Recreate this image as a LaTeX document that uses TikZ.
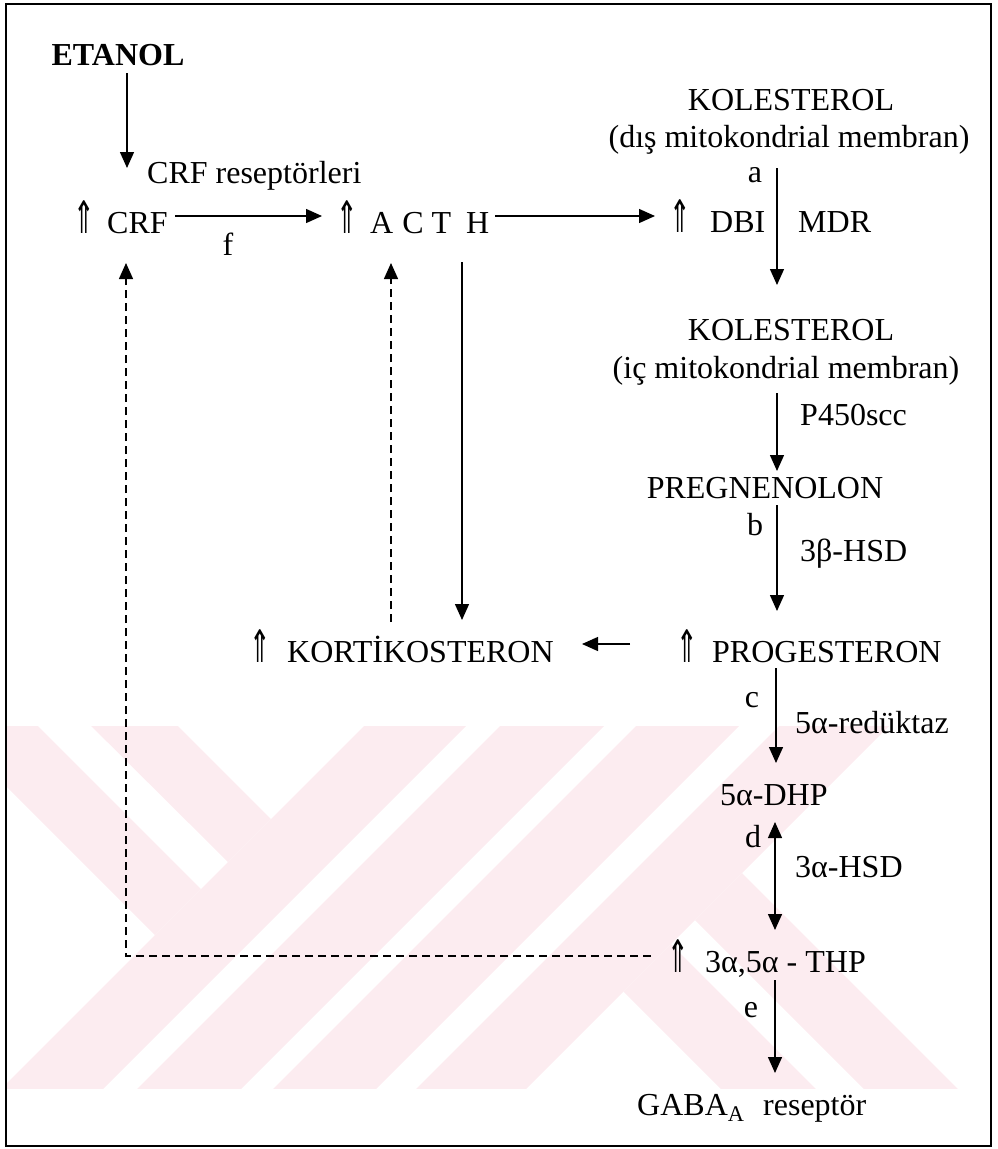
\documentclass[tikz,border=0pt]{standalone}
\usepackage{fontspec}
\setmainfont{Liberation Serif}
\newfontfamily\djv{DejaVu Sans}
\usetikzlibrary{arrows.meta}
\definecolor{wm}{RGB}{252,236,240}
\newcommand\uparr[1]{\makebox[#1][l]{\hspace{-3pt}\scalebox{0.8}[1.4]{\djv ⇑}}}
\begin{document}
\begin{tikzpicture}[x=1pt,y=-1pt,
  lbl/.style={anchor=base west,inner sep=0pt,font=\fontsize{32}{38}\selectfont},
  lblc/.style={anchor=base,inner sep=0pt,font=\fontsize{32}{38}\selectfont},
  arr/.style={line width=1.4pt,-{Triangle[length=16pt,width=14pt]}},
  barr/.style={line width=1.4pt,{Triangle[length=16pt,width=14pt]}-{Triangle[length=16pt,width=14pt]}},
  darr/.style={arr,dash pattern=on 8pt off 5pt},
  wmfill/.style={fill=wm,draw=none}]
\useasboundingbox (0,0) rectangle (998,1149);
% watermark
\begin{scope}
\clip (7,726) rectangle (985,1088);
\foreach \a/\b in {1090/1192,1226/1330,1362/1465,1505/1615}{
  \fill[wmfill] (\a-700,700) -- (\b-700,700) -- (\b-1100,1100) -- (\a-1100,1100) -- cycle;}
\fill[wmfill] (-80,700) -- (12,700) -- (201,889) -- (155,935) -- cycle;
\fill[wmfill] (65,700) -- (152,700) -- (271,819) -- (228,862) -- cycle;
\fill[wmfill] (623.5,991.5) -- (671,944) -- (827,1100) -- (732,1100) -- cycle;
\fill[wmfill] (695,920) -- (742,873) -- (969,1100) -- (875,1100) -- cycle;
\end{scope}
% frame
\draw[line width=2pt] (6,4) rectangle (991,1146);
% nodes
\node[lblc,font=\fontsize{32}{38}\selectfont\bfseries] (etanol) at (118,65) {ETANOL};
\node[lbl] (crfrec) at (147,183) {CRF reseptörleri};
\node[lbl] (crf) at (76,233) {\uparr{31pt}CRF};
\node[lblc] (f) at (228,255) {f};
\node[lbl] (acth) at (339,233) {\uparr{31pt}A\hspace{9pt}C\hspace{8pt}T\hspace{15pt}H};
\node[lbl] (dbi) at (672,232) {\uparr{38pt}DBI};
\node[lbl] (mdr) at (798,232) {MDR};
\node[lblc] (kol1) at (791,110) {KOLESTEROL};
\node[lblc] (kol1m) at (789,147) {(dış mitokondrial membran)};
\node[lblc] (a) at (755,182) {a};
\node[lblc] (kol2) at (791,340) {KOLESTEROL};
\node[lblc] (kol2m) at (786,378) {(iç mitokondrial membran)};
\node[lbl] (p450) at (800,425) {P450scc};
\node[lblc] (pregn) at (765,498) {PREGNENOLON};
\node[lblc] (b) at (755,535) {b};
\node[lbl] (hsdb) at (800,561) {3β-HSD};
\node[lbl] (kort) at (252,662) {\uparr{35pt}KORTİKOSTERON};
\node[lbl] (proges) at (679,662) {\uparr{33pt}PROGESTERON};
\node[lblc] (c) at (752,707) {c};
\node[lbl] (red) at (795,733) {5α-redüktaz};
\node[lbl] (dhp) at (720,805) {5α-DHP};
\node[lblc] (d) at (753,847) {d};
\node[lbl] (hsda) at (795,877) {3α-HSD};
\node[lbl] (thp) at (670,972) {\uparr{35pt}3α,5α - THP};
\node[lblc] (e) at (751,1017) {e};
\node[lbl] (gaba) at (637,1115) {GABA\textsubscript{A}\,\, reseptör};
% connector ends
\coordinate (etS) at (127,73);   \coordinate (crfN) at (127,168);
\coordinate (crfE) at (175,216); \coordinate (acthW) at (322,216);
\coordinate (acthE) at (495,216); \coordinate (dbiW) at (655,216);
\coordinate (k1S) at (777,168);  \coordinate (k2N) at (777,285);
\coordinate (k2S) at (777,393);  \coordinate (prN) at (777,471);
\coordinate (prS) at (777,505);  \coordinate (pgN) at (777,611);
\coordinate (pgW) at (630,644);  \coordinate (koE) at (582,644);
\coordinate (acS) at (462,262);  \coordinate (koN) at (462,620);
\coordinate (koNd) at (391,622); \coordinate (acSd) at (391,263);
\coordinate (pgS) at (776,668);  \coordinate (dhN) at (776,763);
\coordinate (dhS) at (775,822);  \coordinate (thN) at (775,930);
\coordinate (thS) at (775,980);  \coordinate (gaN) at (775,1073);
\coordinate (thW) at (651,956);  \coordinate (cor) at (126,956);
\coordinate (crfS) at (126,263);
% connectors
\draw[arr] (etS) -- (crfN);
\draw[arr] (crfE) -- (acthW);
\draw[arr] (acthE) -- (dbiW);
\draw[arr] (k1S) -- (k2N);
\draw[arr] (k2S) -- (prN);
\draw[arr] (prS) -- (pgN);
\draw[arr] (pgW) -- (koE);
\draw[arr] (acS) -- (koN);
\draw[darr] (koNd) -- (acSd);
\draw[arr] (pgS) -- (dhN);
\draw[barr] (dhS) -- (thN);
\draw[arr] (thS) -- (gaN);
\draw[darr] (thW) -- (cor) -- (crfS);
\end{tikzpicture}
\end{document}
